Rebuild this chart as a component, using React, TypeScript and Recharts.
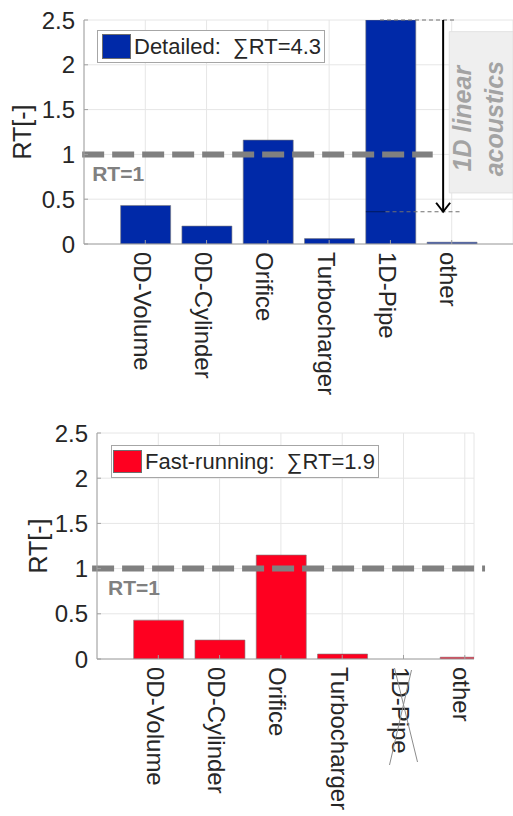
import React from "react";
import {
  BarChart,
  Bar,
  XAxis,
  YAxis,
  CartesianGrid,
  ReferenceLine,
  ReferenceArea,
  Legend,
} from "recharts";

const CATEGORIES = ["0D-Volume", "0D-Cylinder", "Orifice", "Turbocharger", "1D-Pipe", "other"];
const X_POS = [1, 2, 3, 4, 5, 6];
const DETAILED_RT = [0.43, 0.2, 1.16, 0.06, 2.5, 0.02];
const FAST_RT = [0.43, 0.21, 1.15, 0.055, 0, 0.02];
const Y_TICKS = [0, 0.5, 1, 1.5, 2, 2.5];
const DETAILED_SUM = "4.3";
const FAST_SUM = "1.9";
// 1D linear acoustics bracket: top and bottom of the arrow
const ACOUSTIC_TOP = 2.5;
const ACOUSTIC_BOTTOM = 0.36;

const FONT = '"Liberation Sans", Arial, sans-serif';
const BLUE = "#0029a8";
const RED = "#fe0020";
const TEXT = "#262626";
const AXIS = "#a0a0a0";
const GRID = "#e6e6e6";
const REF_GRAY = "#808080";

const detailedData = CATEGORIES.map((name, i) => ({ x: X_POS[i], name, rt: DETAILED_RT[i] }));
const fastData = CATEGORIES.map((name, i) => ({ x: X_POS[i], name, rt: FAST_RT[i] }));

function XTick(props: any) {
  const { x, y, payload, crossed } = props;
  const label = CATEGORIES[payload.value - 1] ?? "";
  const ty = y + 8;
  return (
    <g>
      <line x1={x} y1={y} x2={x} y2={y - 4} stroke={AXIS} />
      <text
        x={x - 3}
        y={ty}
        transform={`rotate(90, ${x - 3}, ${ty})`}
        textAnchor="start"
        dominantBaseline="central"
        fontFamily={FONT}
        fontSize={24}
        fill={TEXT}
      >
        {label}
      </text>
      {crossed === label && (
        <g stroke="#8c8c8c" strokeWidth={1}>
          <line x1={x - 9} y1={y + 9} x2={x + 14} y2={y + 103} />
          <line x1={x + 8} y1={y + 11} x2={x - 14} y2={y + 106} />
        </g>
      )}
    </g>
  );
}

function YTick(props: any) {
  const { x, y, payload } = props;
  return (
    <g>
      <line x1={x} y1={y} x2={x + 4} y2={y} stroke={AXIS} />
      <text
        x={x - 9}
        y={y}
        textAnchor="end"
        dominantBaseline="central"
        fontFamily={FONT}
        fontSize={24}
        fill={TEXT}
      >
        {payload.value}
      </text>
    </g>
  );
}

const yLabel = (cx: number) => (props: any) => {
  const vb = props.viewBox;
  const x = vb.x + cx;
  const y = vb.y + vb.height / 2;
  return (
    <text
      x={x}
      y={y}
      transform={`rotate(-90, ${x}, ${y})`}
      textAnchor="middle"
      dominantBaseline="central"
      fontFamily={FONT}
      fontSize={25}
      fill={TEXT}
    >
      RT[-]
    </text>
  );
};

const rtLine = (dx: number, dy: number) => (props: any) => {
  const { x1, y1, x2, y2 } = props;
  return (
    <g>
      <line x1={x1} y1={y1} x2={x2} y2={y2} stroke={REF_GRAY} strokeWidth={6} strokeDasharray="22 8" />
      <text x={x1 + dx} y={y1 + dy} fontFamily={FONT} fontSize={21} fontWeight="bold" fill={REF_GRAY}>
        RT=1
      </text>
    </g>
  );
};

function ArrowShape(props: any) {
  const { x1, y1, x2, y2 } = props;
  return (
    <g stroke="#000" strokeWidth={2} fill="none">
      <line x1={x1} y1={y1} x2={x2} y2={y2} />
      <polyline points={`${x2 - 7},${y2 - 9} ${x2},${y2} ${x2 + 7},${y2 - 9}`} />
    </g>
  );
}

function BoxLabel(props: any) {
  const vb = props.viewBox;
  const y = vb.y + 87;
  const x1 = vb.x + 22;
  const x2 = vb.x + 54;
  const common = {
    textAnchor: "middle" as const,
    fontFamily: FONT,
    fontSize: 25,
    fontWeight: "bold" as const,
    fontStyle: "italic" as const,
    fill: "#a3a3a3",
  };
  return (
    <g>
      <text x={x1} y={y} transform={`rotate(-90, ${x1}, ${y})`} {...common}>
        1D linear
      </text>
      <text x={x2} y={y} transform={`rotate(-90, ${x2}, ${y})`} {...common}>
        acoustics
      </text>
    </g>
  );
}

function LegendBox({ color, label, sum, pad, swatchH }: any) {
  return (
    <div
      style={{
        display: "flex",
        alignItems: "center",
        border: "1px solid #a6a6a6",
        background: "#fff",
        padding: `0 3px 0 ${pad}px`,
        height: 33,
        boxSizing: "border-box",
        fontFamily: FONT,
        fontSize: 22,
        color: TEXT,
        whiteSpace: "pre",
      }}
    >
      <span
        style={{
          display: "inline-block",
          width: 29,
          height: swatchH,
          background: color,
          border: "1px solid #6e6e6e",
          boxSizing: "border-box",
          marginRight: 3,
        }}
      />
      {`${label}:  \u2211RT=${sum}`}
    </div>
  );
}

export default function App() {
  return (
    <div style={{ position: "absolute", left: 0, top: 0, width: 513, height: 816, background: "#fff" }}>
      <div style={{ position: "absolute", left: 0, top: 0 }}>
        <BarChart width={513} height={410} data={detailedData} margin={{ top: 20, right: 0, left: 0, bottom: 0 }}>
          <CartesianGrid stroke={GRID} />
          <XAxis
            dataKey="x"
            type="number"
            domain={[0, 7]}
            ticks={X_POS}
            height={166}
            tickSize={0}
            tickMargin={0}
            axisLine={{ stroke: AXIS }}
            tickLine={false}
            tick={(p: any) => <XTick {...p} />}
            interval={0}
          />
          <YAxis
            type="number"
            domain={[0, 2.5]}
            ticks={Y_TICKS}
            allowDataOverflow
            width={84}
            tickSize={0}
            tickMargin={0}
            axisLine={{ stroke: AXIS }}
            tickLine={false}
            tick={(p: any) => <YTick {...p} />}
            interval={0}
            label={yLabel(22)}
          />
          <ReferenceArea
            x1={5.96}
            x2={7}
            y1={0.57}
            y2={2.37}
            fill="#efefef"
            fillOpacity={1}
            stroke="#e2e2e2"
            ifOverflow="visible"
            label={(p: any) => <BoxLabel {...p} />}
          />
          <Bar dataKey="rt" fill={BLUE} stroke="#7a7a7a" strokeWidth={0.6} barSize={50} isAnimationActive={false} />
          <ReferenceLine
            segment={[{ x: 4.6, y: ACOUSTIC_BOTTOM }, { x: 4.92, y: ACOUSTIC_BOTTOM }]}
            stroke="#001a5e"
            strokeWidth={1}
            ifOverflow="visible"
          />
          <ReferenceLine
            segment={[{ x: 4.83, y: ACOUSTIC_TOP }, { x: 6.05, y: ACOUSTIC_TOP }]}
            stroke="#707070"
            strokeWidth={1.2}
            strokeDasharray="4 3"
            ifOverflow="visible"
          />
          <ReferenceLine
            segment={[{ x: 4.92, y: ACOUSTIC_BOTTOM }, { x: 6.17, y: ACOUSTIC_BOTTOM }]}
            stroke="#707070"
            strokeWidth={1.2}
            strokeDasharray="4 3"
            ifOverflow="visible"
          />
          <ReferenceLine
            segment={[{ x: 5.86, y: ACOUSTIC_TOP }, { x: 5.86, y: ACOUSTIC_BOTTOM }]}
            ifOverflow="visible"
            shape={ArrowShape}
          />
          <ReferenceLine
            segment={[{ x: -0.03, y: 1 }, { x: 5.69, y: 1 }]}
            ifOverflow="visible"
            shape={rtLine(10, 27)}
          />
          <Legend
            layout="vertical"
            align="center"
            verticalAlign="middle"
            wrapperStyle={{ left: 97, top: 30, width: "auto", height: "auto" }}
            content={() => <LegendBox color={BLUE} label="Detailed" sum={DETAILED_SUM} pad={4} swatchH={25} />}
          />
        </BarChart>
      </div>
      <div style={{ position: "absolute", left: 0, top: 410 }}>
        <BarChart width={513} height={406} data={fastData} margin={{ top: 23, right: 39, left: 0, bottom: 0 }}>
          <CartesianGrid stroke={GRID} />
          <XAxis
            dataKey="x"
            type="number"
            domain={[0, 6.15]}
            ticks={X_POS}
            allowDataOverflow
            height={157}
            tickSize={0}
            tickMargin={0}
            axisLine={{ stroke: AXIS }}
            tickLine={false}
            tick={(p: any) => <XTick {...p} crossed="1D-Pipe" />}
            interval={0}
          />
          <YAxis
            type="number"
            domain={[0, 2.5]}
            ticks={Y_TICKS}
            allowDataOverflow
            width={97}
            tickSize={0}
            tickMargin={0}
            axisLine={{ stroke: AXIS }}
            tickLine={false}
            tick={(p: any) => <YTick {...p} />}
            interval={0}
            label={yLabel(38)}
          />
          <Bar dataKey="rt" fill={RED} stroke="#7a7a7a" strokeWidth={0.6} barSize={50} isAnimationActive={false} />
          <ReferenceLine
            segment={[{ x: -0.08, y: 1 }, { x: 6.33, y: 1 }]}
            ifOverflow="visible"
            shape={rtLine(16, 26)}
          />
          <Legend
            layout="vertical"
            align="center"
            verticalAlign="middle"
            wrapperStyle={{ left: 111, top: 35, width: "auto", height: "auto" }}
            content={() => <LegendBox color={RED} label="Fast-running" sum={FAST_SUM} pad={1} swatchH={23} />}
          />
        </BarChart>
      </div>
    </div>
  );
}
